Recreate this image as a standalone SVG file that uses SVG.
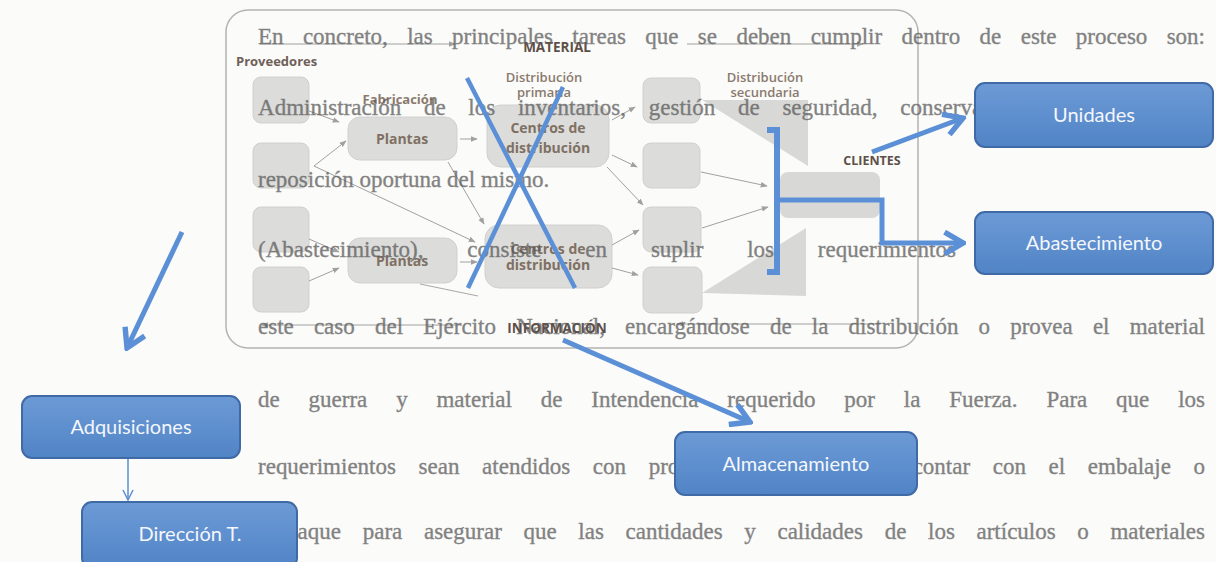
<svg xmlns="http://www.w3.org/2000/svg" width="1216" height="562" viewBox="0 0 1216 562">
<defs>
<style>
.body{font-family:"Liberation Serif","Times New Roman",serif;font-size:23px;fill:#595959;stroke:#595959;stroke-width:0.35;opacity:0.75}
.lbl{font-family:"Open Sans","Noto Sans",sans-serif;font-size:13px;font-weight:600;fill:#8a7a6e}
.nl{font-family:"Open Sans","Noto Sans",sans-serif;font-size:14px;font-weight:700;fill:#7f7064;text-anchor:middle}
.hd{font-family:"Open Sans","Noto Sans",sans-serif;font-size:13.5px;font-weight:700;fill:#5e5048}
.gbox{fill:#dcdcda;stroke:#d0d0ce;stroke-width:1}
.flow{stroke:#a0a0a0;stroke-width:1;fill:none;marker-end:url(#sa)}
.flow2{stroke:#a8a8a8;stroke-width:1;fill:none}
.blue{stroke:#5b8fd6;stroke-width:5;fill:none;stroke-linejoin:miter}
.bbox{fill:url(#bg);stroke:#3f6aa6;stroke-width:2}
.btxt{font-family:Lato,"Open Sans",sans-serif;font-size:20px;fill:#f4f7fc;text-anchor:middle}
</style>
<linearGradient id="bg" x1="0" y1="0" x2="0" y2="1">
<stop offset="0" stop-color="#6c9ad6"/>
<stop offset="1" stop-color="#5184c6"/>
</linearGradient>
<marker id="sa" viewBox="0 0 10 10" refX="9" refY="5" markerWidth="7" markerHeight="7" markerUnits="userSpaceOnUse" orient="auto">
<path d="M0,1 L10,5 L0,9 z" fill="#a0a0a0"/>
</marker>
<marker id="bh" viewBox="0 0 24 24" refX="21" refY="12" markerWidth="26" markerHeight="26" markerUnits="userSpaceOnUse" orient="auto">
<path d="M4,2 L21,12 L4,22" fill="none" stroke="#5b8fd6" stroke-width="5" stroke-linejoin="miter"/>
</marker>
<marker id="th" viewBox="0 0 12 12" refX="11" refY="6" markerWidth="12" markerHeight="12" markerUnits="userSpaceOnUse" orient="auto">
<path d="M1,1 L11,6 L1,11" fill="none" stroke="#5b8fd6" stroke-width="1.5"/>
</marker>
</defs>
<rect width="1216" height="562" fill="#fbfbf9"/>

<g id="diagram-frame">
<rect x="226" y="10" width="692" height="338" rx="22" fill="none" stroke="#b4b4b2" stroke-width="1.5"/>
</g>

<g id="gray-shapes">
<polygon points="702,100 808,100 808,166" fill="#d8d8d6"/>
<polygon points="702,293 806,228 806,296" fill="#d8d8d6"/>
<rect x="780" y="172" width="100" height="46" rx="8" fill="#d8d8d6"/>
</g>

<g id="prov1"><rect class="gbox" x="253" y="77" width="56" height="46" rx="8"/></g>
<g id="prov2"><rect class="gbox" x="253" y="143" width="56" height="45" rx="8"/></g>
<g id="prov3"><rect class="gbox" x="253" y="207" width="56" height="45" rx="8"/></g>
<g id="prov4"><rect class="gbox" x="253" y="267" width="56" height="45" rx="8"/></g>
<g id="plantas1"><rect class="gbox" x="348" y="117" width="109" height="43" rx="12"/><text class="nl" x="402" y="144">Plantas</text></g>
<g id="plantas2"><rect class="gbox" x="348" y="238" width="109" height="45" rx="12"/><text class="nl" x="402" y="266">Plantas</text></g>
<g id="centros1"><rect class="gbox" x="487" y="105" width="122" height="62" rx="14"/><text class="nl" x="548" y="133">Centros de</text><text class="nl" x="548" y="153">distribución</text></g>
<g id="centros2"><rect class="gbox" x="485" y="225" width="127" height="63" rx="14"/><text class="nl" x="548" y="254">Centros de</text><text class="nl" x="548" y="270">distribución</text></g>
<g id="sec1"><rect class="gbox" x="643" y="78" width="57" height="45" rx="8"/></g>
<g id="sec2"><rect class="gbox" x="643" y="143" width="57" height="45" rx="8"/></g>
<g id="sec3"><rect class="gbox" x="643" y="207" width="58" height="45" rx="8"/></g>
<g id="sec4"><rect class="gbox" x="643" y="267" width="59" height="46" rx="8"/></g>

<g id="labels">
<text class="lbl" x="236" y="66" style="fill:#6e6058;font-weight:700">Proveedores</text>
<text class="lbl" x="400" y="104" text-anchor="middle" style="font-weight:700">Fabricación</text>
<text class="lbl" x="544" y="82" text-anchor="middle">Distribución</text>
<text class="lbl" x="544" y="97" text-anchor="middle">primaria</text>
<text class="lbl" x="765" y="82" text-anchor="middle">Distribución</text>
<text class="lbl" x="765" y="97" text-anchor="middle">secundaria</text>
<text class="hd" x="557" y="52" text-anchor="middle">MATERIAL</text>
<text class="hd" x="557" y="333" text-anchor="middle">INFORMACIÓN</text>
<text class="hd" x="872" y="165" text-anchor="middle" style="font-size:12.5px">CLIENTES</text>
</g>

<g id="connectors">
<line class="flow" x1="260" y1="44" x2="455" y2="44"/>
<line class="flow" x1="687" y1="44" x2="863" y2="44"/>
<line class="flow" x1="460" y1="325" x2="262" y2="325"/>
<line class="flow" x1="880" y1="324" x2="677" y2="324"/>
<line class="flow" x1="309" y1="111" x2="339" y2="122"/>
<line class="flow" x1="314" y1="166" x2="346" y2="141"/>
<line class="flow" x1="314" y1="166" x2="475" y2="242"/>
<line class="flow" x1="309" y1="239" x2="339" y2="252"/>
<line class="flow" x1="309" y1="281" x2="339" y2="268"/>
<line class="flow" x1="460" y1="139" x2="477" y2="139"/>
<line class="flow" x1="460" y1="262" x2="477" y2="262"/>
<line class="flow" x1="448" y1="162" x2="484" y2="224"/>
<line class="flow2" x1="420" y1="284" x2="478" y2="296"/>
<line class="flow" x1="612" y1="120" x2="635" y2="107"/>
<line class="flow" x1="612" y1="155" x2="637" y2="167"/>
<line class="flow" x1="607" y1="167" x2="643" y2="205"/>
<line class="flow" x1="612" y1="245" x2="639" y2="230"/>
<line class="flow" x1="612" y1="268" x2="638" y2="275"/>
<line class="flow" x1="701" y1="172" x2="767" y2="186"/>
<line class="flow" x1="702" y1="228" x2="768" y2="207"/>
</g>

<g id="body-text">
<text class="body" x="258" y="44" word-spacing="13.6" textLength="947" lengthAdjust="spacing">En concreto, las principales tareas que se deben cumplir dentro de este proceso son:</text>
<text class="body" x="258" y="115" word-spacing="17" textLength="947" lengthAdjust="spacing">Administración de los inventarios, gestión de seguridad, conservación del material y</text>
<text class="body" x="258" y="187">reposición oportuna del mismo.</text>
<text class="body" x="258" y="257" word-spacing="38.1" textLength="947" lengthAdjust="spacing">(Abastecimiento), consiste en suplir los requerimientos del usuario en</text>
<text class="body" x="258" y="334" word-spacing="14.4" textLength="947" lengthAdjust="spacing">este caso del Ejército Nacional, encargándose de la distribución o provea el material</text>
<text class="body" x="258" y="407" word-spacing="23.1" textLength="947" lengthAdjust="spacing">de guerra y material de Intendencia requerido por la Fuerza. Para que los</text>
<text class="body" x="258" y="474" word-spacing="16.9" textLength="947" lengthAdjust="spacing">requerimientos sean atendidos con prontitud, es necesario contar con el embalaje o</text>
<text class="body" x="258" y="539" word-spacing="15.9" textLength="947" lengthAdjust="spacing">empaque para asegurar que las cantidades y calidades de los artículos o materiales</text>
</g>

<g id="blue-connectors">
<line class="blue" x1="467" y1="78" x2="575" y2="288" style="stroke-width:4.5"/>
<line class="blue" x1="563" y1="87" x2="468" y2="288" style="stroke-width:4.5"/>
<path class="blue" d="M767,130 H777 V272 H767" style="stroke-width:6"/>
<line class="blue" x1="182" y1="232" x2="127" y2="348" marker-end="url(#bh)"/>
<line class="blue" x1="563" y1="340" x2="750" y2="422" marker-end="url(#bh)"/>
<line class="blue" x1="872" y1="152" x2="963" y2="118" marker-end="url(#bh)"/>
<path class="blue" d="M777,200 H882 V243 H963" marker-end="url(#bh)"/>
<line x1="128" y1="458" x2="128" y2="500" stroke="#5b8fd6" stroke-width="1.5" marker-end="url(#th)"/>
</g>

<g id="unidades"><rect class="bbox" x="975" y="83" width="238" height="64" rx="10"/><text class="btxt" x="1094" y="122">Unidades</text></g>
<g id="abastecimiento"><rect class="bbox" x="975" y="212" width="238" height="62" rx="10"/><text class="btxt" x="1094" y="250">Abastecimiento</text></g>
<g id="adquisiciones"><rect class="bbox" x="22" y="396" width="218" height="62" rx="10"/><text class="btxt" x="131" y="434">Adquisiciones</text></g>
<g id="direccion"><rect class="bbox" x="82" y="502" width="215" height="66" rx="10"/><text class="btxt" x="190" y="541">Dirección T.</text></g>
<g id="almacenamiento"><rect class="bbox" x="675" y="432" width="242" height="63" rx="10"/><text class="btxt" x="796" y="471">Almacenamiento</text></g>
</svg>
